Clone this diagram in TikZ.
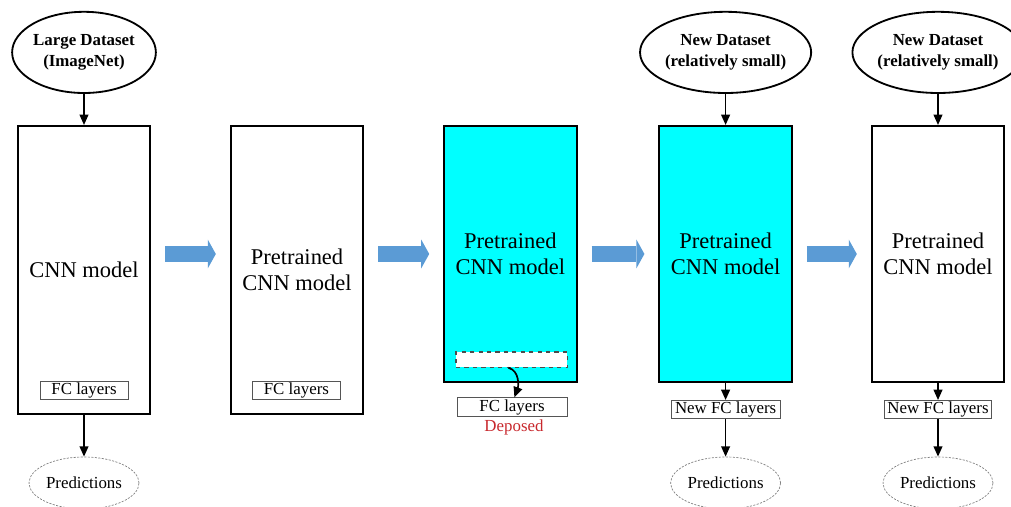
\documentclass[tikz,border=0pt]{standalone}
\usepackage{fontspec}
\setmainfont{Liberation Serif}
\usepackage{tikz}
\usetikzlibrary{shapes.geometric, arrows.meta}
\definecolor{cnncyan}{HTML}{00FFFF}
\definecolor{flowblue}{HTML}{5B9BD5}
\definecolor{deposedred}{HTML}{C8282D}
\definecolor{layergray}{HTML}{555555}

\tikzset{
  cnnbox/.style={draw, line width=1.4pt, minimum width=3.31cm, anchor=north, align=center, inner sep=0pt, font=\fontsize{16}{18.5}\selectfont},
  dataset/.style={ellipse, draw, line width=1.3pt, minimum width=3.5cm, minimum height=2.03cm, inner sep=0pt, align=center, font=\fontsize{12}{15}\selectfont\bfseries},
  predict/.style={ellipse, draw=gray, dash pattern=on 1.5pt off 1pt, line width=0.5pt, minimum width=2.75cm, minimum height=1.3cm, inner sep=0pt, font=\fontsize{12}{12}\selectfont},
  fcbox/.style={draw=layergray, line width=0.7pt, minimum height=0.42cm, inner sep=1pt, font=\fontsize{12}{12}\selectfont},
  blackarrow/.style={line width=1.2pt, -{Triangle[length=0.26cm, width=0.22cm]}},
  flowarrow/.style={draw=flowblue, line width=0.4cm, -{Triangle[length=0.2cm, width=0.72cm, line width=0pt]}, shorten <=0.35cm, shorten >=0.35cm}
}

\begin{document}
\begin{tikzpicture}
  \useasboundingbox (0,0) rectangle (25.275,-12.675);

  % Datasets
  \node[dataset] (data1) at (2.1,-1.31) {Large Dataset\\(ImageNet)};
  \node[dataset] (data4) at (18.14,-1.31) {New Dataset\\(relatively small)};
  \node[dataset] (data5) at (23.45,-1.31) {New Dataset\\(relatively small)};

  % Models
  \node[cnnbox, minimum height=7.2cm] (cnn1) at (2.1,-3.125) {CNN model};
  \node[cnnbox, minimum height=7.2cm] (cnn2) at (7.425,-3.125) {Pretrained\\CNN model};
  \node[cnnbox, minimum height=6.4cm, fill=cnncyan] (cnn3) at (12.76,-3.125) {Pretrained\\CNN model};
  \node[cnnbox, minimum height=6.4cm, fill=cnncyan] (cnn4) at (18.14,-3.125) {Pretrained\\CNN model};
  \node[cnnbox, minimum height=6.4cm] (cnn5) at (23.45,-3.125) {Pretrained\\CNN model};

  % FC layers
  \node[fcbox, minimum width=2.2cm] (fc1) at (2.1,-9.76) {FC layers};
  \node[fcbox, minimum width=2.22cm] (fc2) at (7.41,-9.76) {FC layers};
  \node[draw=black!70, fill=white, dashed, line width=0.8pt, minimum width=2.78cm, minimum height=0.38cm, inner sep=0pt] (drop3) at (12.79,-8.99) {};
  \node[fcbox, minimum width=2.75cm, minimum height=0.4cm] (fc3) at (12.8,-10.175) {FC layers};
  \node[deposedred, font=\fontsize{12}{12}\selectfont] (deposed) at (12.85,-10.68) {Deposed};
  \node[fcbox, minimum width=2.72cm, minimum height=0.375cm] (nfc4) at (18.14,-10.24) {New FC layers};
  \node[fcbox, minimum width=2.68cm, minimum height=0.375cm] (nfc5) at (23.45,-10.24) {New FC layers};

  % Predictions
  \node[predict] (pred1) at (2.1,-12.075) {Predictions};
  \node[predict] (pred4) at (18.14,-12.075) {Predictions};
  \node[predict] (pred5) at (23.45,-12.075) {Predictions};

  % Vertical arrows
  \draw[blackarrow] (data1) -- (cnn1);
  \draw[blackarrow] (data4) -- (cnn4);
  \draw[blackarrow] (data5) -- (cnn5);
  \draw[blackarrow] (cnn1) -- (pred1);
  \draw[blackarrow] ([xshift=-0.08cm]drop3.south) to[out=-15, in=70] ([xshift=0.06cm]fc3.north);
  \draw[blackarrow] (cnn4) -- (nfc4);
  \draw[blackarrow] (nfc4) -- (pred4);
  \draw[blackarrow] (cnn5) -- (nfc5);
  \draw[blackarrow] (nfc5) -- (pred5);

  % Flow arrows
  \draw[flowarrow] (cnn1.east |- cnn3.center) -- (cnn2.west |- cnn3.center);
  \draw[flowarrow] (cnn2.east |- cnn3.center) -- (cnn3.west);
  \draw[flowarrow] (cnn3.east) -- (cnn4.west);
  \draw[flowarrow] (cnn4.east) -- (cnn5.west);
\end{tikzpicture}
\end{document}
